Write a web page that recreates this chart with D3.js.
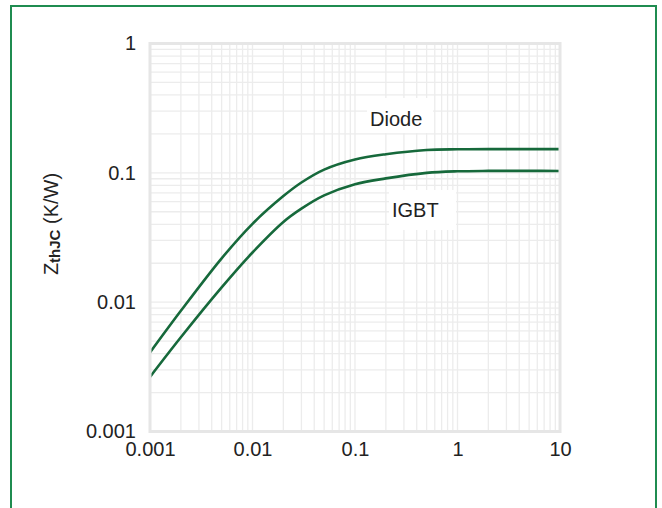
<!DOCTYPE html>
<html>
<head>
<meta charset="utf-8">
<script src="https://cdn.jsdelivr.net/npm/d3@7"></script>
<style>
  body { margin: 0; background: #fff; }
  text { font-family: "Liberation Sans", Arial, sans-serif; fill: #222; }
</style>
</head>
<body>
<script>
// Zth(j-c) curves, values
const pulseTimes = [0.001, 0.002, 0.005, 0.01, 0.02, 0.03, 0.05, 0.1, 0.2, 0.5, 1, 2, 5, 10];
const diodeZth   = [0.00408, 0.00857, 0.02183, 0.04036, 0.06607, 0.08414, 0.1059, 0.1268, 0.1393, 0.1503, 0.1521, 0.1524, 0.1524, 0.1524];
const igbtZth    = [0.00264, 0.00535, 0.0130, 0.02421, 0.04169, 0.05284, 0.06691, 0.08166, 0.09057, 0.1000, 0.1028, 0.1035, 0.1035, 0.1034];
const xTickVals  = [0.001, 0.01, 0.1, 1, 10];
const xTickText  = ["0.001", "0.01", "0.1", "1", "10"];
const yTickVals  = [0.001, 0.01, 0.1, 1];
const yTickText  = ["0.001", "0.01", "0.1", "1"];
const seriesNames = ["Diode", "IGBT"];

//---- drawing parameters
const W = 662, H = 508;
const plotX1 = 150, plotX2 = 560;
const plotY1 = 43.5, plotY2 = 431.5;
const gridColor = "#ececec";
const curveColor = "#16693b";

const svg = d3.select("body").append("svg")
  .attr("width", W)
  .attr("height", H);

// outer green frame (open at the bottom)
svg.append("rect")
  .attr("x", 11).attr("y", 6)
  .attr("width", 645).attr("height", 600)
  .attr("fill", "none")
  .attr("stroke", "#1f8c50")
  .attr("stroke-width", 2);

const x = d3.scaleLog().domain([0.001, 10]).range([plotX1, plotX2]);
const y = d3.scaleLog().domain([0.001, 1]).range([plotY2, plotY1]);

// minor + major grid values (1..9 per decade)
let xGrid = [];
for (let e = -3; e < 1; e++) {
  for (let m = 1; m < 10; m++) xGrid.push(m * Math.pow(10, e));
}
let yGrid = [];
for (let e = -3; e < 0; e++) {
  for (let m = 1; m < 10; m++) yGrid.push(m * Math.pow(10, e));
}

svg.append("g").selectAll("line")
    .data(xGrid)
    .enter()
  .append("line")
    .attr("x1", d => x(d)).attr("x2", d => x(d))
    .attr("y1", plotY1).attr("y2", plotY2)
    .attr("stroke", gridColor)
    .attr("stroke-width", 1.3);

svg.append("g").selectAll("line")
    .data(yGrid)
    .enter()
  .append("line")
    .attr("y1", d => y(d)).attr("y2", d => y(d))
    .attr("x1", plotX1).attr("x2", plotX2)
    .attr("stroke", gridColor)
    .attr("stroke-width", 1.3);

// curves
const line = d3.line()
  .x(d => x(d[0]))
  .y(d => y(d[1]))
  .curve(d3.curveCatmullRom.alpha(0.5));

[diodeZth, igbtZth].forEach(vals => {
  svg.append("path")
    .datum(pulseTimes.map((t, i) => [t, vals[i]]))
    .attr("d", line)
    .attr("fill", "none")
    .attr("stroke", curveColor)
    .attr("stroke-width", 2.6);
});

// plot border
svg.append("rect")
  .attr("x", plotX1).attr("y", plotY1)
  .attr("width", plotX2 - plotX1).attr("height", plotY2 - plotY1)
  .attr("fill", "none")
  .attr("stroke", "#e6e6e6")
  .attr("stroke-width", 3);

// series labels on white boxes
const labels = [
  { name: seriesNames[0], tx: 370, ty: 126, bx: 367, by: 98, bw: 66, bh: 35 },
  { name: seriesNames[1], tx: 392, ty: 217, bx: 389, by: 190, bw: 67, bh: 40 }
];
labels.forEach(l => {
  svg.append("rect")
    .attr("x", l.bx).attr("y", l.by)
    .attr("width", l.bw).attr("height", l.bh)
    .attr("fill", "#fff");
  svg.append("text")
    .attr("x", l.tx).attr("y", l.ty)
    .attr("font-size", 20)
    .text(l.name);
});

// tick labels
const xAxis = d3.axisBottom(x)
  .tickValues(xTickVals)
  .tickFormat((d, i) => xTickText[i])
  .tickSize(0)
  .tickPadding(10);
svg.append("g")
  .attr("transform", `translate(0,${plotY2})`)
  .call(xAxis)
  .call(g => g.select(".domain").remove())
  .selectAll("text")
    .attr("font-size", 20)
    .attr("font-family", "Liberation Sans, Arial, sans-serif")
    .attr("fill", "#222");

const yAxis = d3.axisLeft(y)
  .tickValues(yTickVals)
  .tickFormat((d, i) => yTickText[i])
  .tickSize(0)
  .tickPadding(14);
svg.append("g")
  .attr("transform", `translate(${plotX1},0)`)
  .call(yAxis)
  .call(g => g.select(".domain").remove())
  .selectAll("text")
    .attr("font-size", 20)
    .attr("font-family", "Liberation Sans, Arial, sans-serif")
    .attr("fill", "#222");

// y axis title
const yTitle = svg.append("text")
  .attr("transform", "translate(58,224) rotate(-90)")
  .attr("text-anchor", "middle")
  .attr("font-size", 20);
yTitle.append("tspan").text("Z");
yTitle.append("tspan").attr("font-size", 15).attr("font-weight", "bold").attr("dy", 2).text("thJC");
yTitle.append("tspan").attr("dy", -2).text(" (K/W)");
</script>
</body>
</html>
